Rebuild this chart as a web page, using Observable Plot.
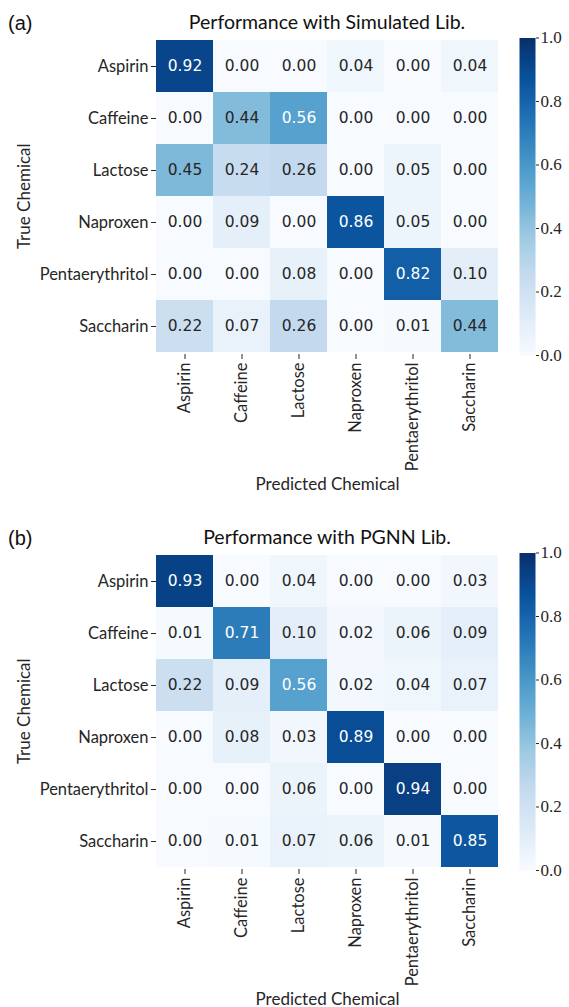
<!DOCTYPE html>
<html>
<head>
<meta charset="utf-8">
<script src="https://cdn.jsdelivr.net/npm/d3@7"></script>
<script src="https://cdn.jsdelivr.net/npm/@observablehq/plot@0.6"></script>
<style>
  html, body { margin: 0; padding: 0; background: #fff; overflow: hidden; }
  .panel { position: relative; width: 569px; overflow: hidden; }
  .panel svg { position: absolute; top: 0; }
  .tag { position: absolute; left: 8px; font-family: "Liberation Sans", Arial, sans-serif; font-size: 20px; line-height: 1; color: #111; }
  .title { position: absolute; left: 156px; width: 342px; text-align: center; font-family: Lato, sans-serif; font-size: 19.5px; line-height: 1; color: #111; white-space: nowrap; }
</style>
</head>
<body>
<div id="root"></div>
<script>
// ---- data ----
const chemicals = ["Aspirin", "Caffeine", "Lactose", "Naproxen", "Pentaerythritol", "Saccharin"];

const simulatedLib = [
  [0.92, 0.00, 0.00, 0.04, 0.00, 0.04],
  [0.00, 0.44, 0.56, 0.00, 0.00, 0.00],
  [0.45, 0.24, 0.26, 0.00, 0.05, 0.00],
  [0.00, 0.09, 0.00, 0.86, 0.05, 0.00],
  [0.00, 0.00, 0.08, 0.00, 0.82, 0.10],
  [0.22, 0.07, 0.26, 0.00, 0.01, 0.44]
];

const pgnnLib = [
  [0.93, 0.00, 0.04, 0.00, 0.00, 0.03],
  [0.01, 0.71, 0.10, 0.02, 0.06, 0.09],
  [0.22, 0.09, 0.56, 0.02, 0.04, 0.07],
  [0.00, 0.08, 0.03, 0.89, 0.00, 0.00],
  [0.00, 0.00, 0.06, 0.00, 0.94, 0.00],
  [0.00, 0.01, 0.07, 0.06, 0.01, 0.85]
];

const colorbarTicks = [0.0, 0.2, 0.4, 0.6, 0.8, 1.0];
const bluesStops = ["#f7fbff", "#deebf7", "#c6dbef", "#9ecae1", "#6baed6", "#4292c6", "#2171b5", "#08519c", "#08306b"];

const panels = [
  { tag: "(a)", title: "Performance with Simulated Lib.", matrix: simulatedLib, height: 515 },
  { tag: "(b)", title: "Performance with PGNN Lib.", matrix: pgnnLib, height: 492 }
];

// ---- drawing ----
const W = 569;
const frameLeft = 156, frameRight = 498, frameTop = 37.5, frameBottom = 354;
const cbLeft = 519, cbRight = 535;
const colorScale = {
  type: "linear",
  domain: bluesStops.map((_, i) => i / (bluesStops.length - 1)),
  range: bluesStops,
  interpolate: "rgb"
};
const dark = "#262626";

const root = document.getElementById("root");

for (const p of panels) {
  const H = p.height;
  const div = document.createElement("div");
  div.className = "panel";
  div.style.height = H + "px";
  root.appendChild(div);

  const data = [];
  p.matrix.forEach((row, i) => row.forEach((v, j) => data.push({ truth: chemicals[i], pred: chemicals[j], value: v })));

  const heat = Plot.plot({
    width: W,
    height: 515,
    marginLeft: frameLeft,
    marginRight: W - frameRight,
    marginTop: frameTop,
    marginBottom: 515 - frameBottom,
    style: { fontFamily: "Lato, sans-serif", fontSize: "16.5px", color: dark, background: "transparent", overflow: "visible" },
    x: { domain: chemicals, padding: 0 },
    y: { domain: chemicals, padding: 0 },
    color: colorScale,
    marks: [
      Plot.cell(data, { x: "pred", y: "truth", fill: "value" }),
      Plot.text(data, {
        x: "pred", y: "truth",
        text: d => d.value.toFixed(2),
        fill: d => d.value > 0.5 ? "#ffffff" : dark,
        fontFamily: "DejaVu Sans", fontSize: 15.5
      }),
      Plot.axisX({
        anchor: "bottom", tickRotate: -90, tickSize: 5, tickPadding: 3,
        label: "Predicted Chemical", labelAnchor: "center", labelOffset: 135,
        fontSize: 16.5
      }),
      Plot.axisY({
        anchor: "left", tickSize: 5, tickPadding: 3,
        label: "True Chemical", labelAnchor: "center", labelOffset: 139,
        fontSize: 16.5
      })
    ]
  });
  heat.style.left = "0px";
  div.appendChild(heat);

  heat.querySelectorAll("g[aria-label='x-axis label'] text, g[aria-label='y-axis label'] text")
      .forEach(t => t.style.fontSize = "17px");

  const cbar = Plot.plot({
    width: W - cbLeft,
    height: 515,
    marginLeft: 0,
    marginRight: W - cbRight,
    marginTop: frameTop,
    marginBottom: 515 - frameBottom - 1,
    style: { fontFamily: "'Liberation Serif', serif", fontSize: "17px", color: dark, background: "transparent", overflow: "visible" },
    x: { domain: [0, 1], axis: null },
    y: { domain: [0, 1] },
    color: colorScale,
    marks: [
      Plot.raster({ x1: 0, x2: 1, y1: 0, y2: 1, width: 1, height: 300, fill: (x, y) => y, imageRendering: "auto" }),
      Plot.axisY({ anchor: "right", ticks: colorbarTicks, tickFormat: d3.format(".1f"), tickSize: 3, tickPadding: 2, label: null, fontSize: 17, fontFamily: "'Liberation Serif', serif" })
    ]
  });
  cbar.style.left = cbLeft + "px";
  div.appendChild(cbar);

  const tag = document.createElement("div");
  tag.className = "tag";
  tag.style.top = "13px";
  tag.textContent = p.tag;
  div.appendChild(tag);

  const title = document.createElement("div");
  title.className = "title";
  title.style.top = "12px";
  title.textContent = p.title;
  div.appendChild(title);
}
</script>
</body>
</html>
